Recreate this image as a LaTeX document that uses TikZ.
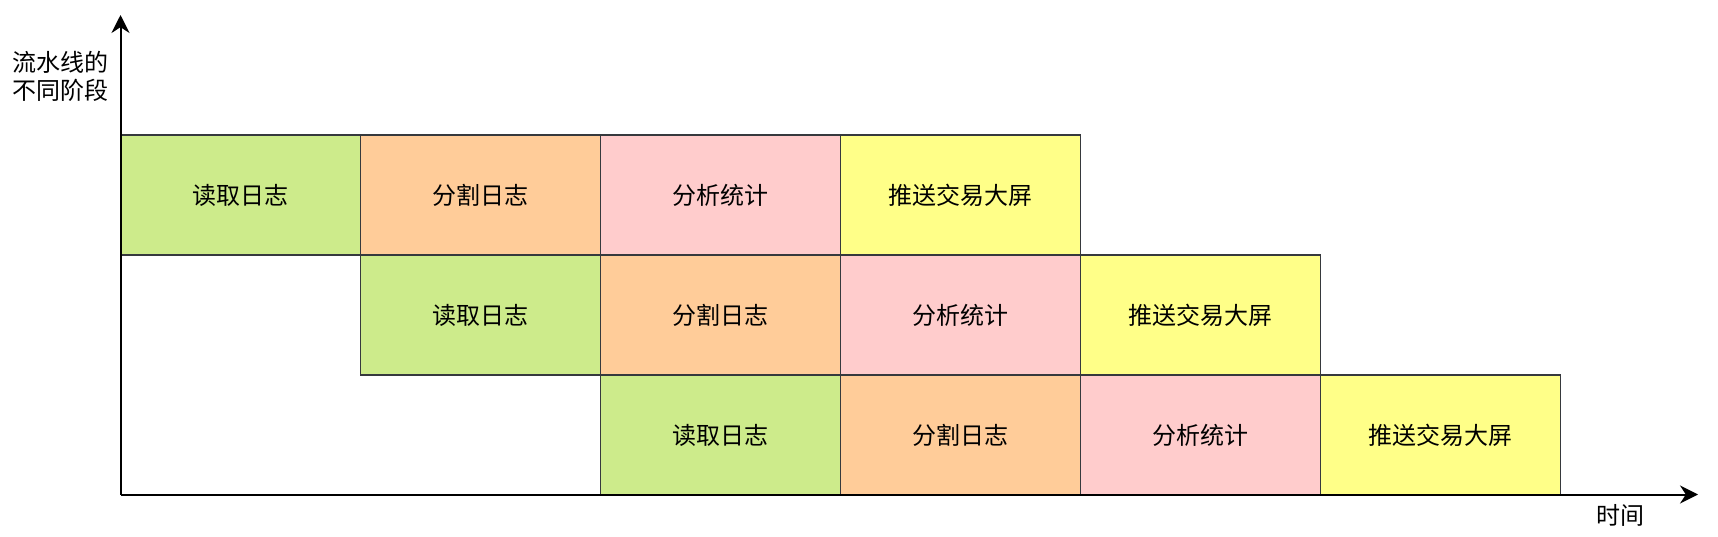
\documentclass[tikz,border=0pt]{standalone}
\usepackage{fontspec}
\setmainfont{Noto Sans CJK SC}
\usepackage{xcolor}
\usetikzlibrary{arrows.meta,positioning}

\definecolor{readc}{HTML}{CDEB8B}
\definecolor{splitc}{HTML}{FFCC99}
\definecolor{statc}{HTML}{FFCCCC}
\definecolor{pushc}{HTML}{FFFF88}
\definecolor{edgec}{HTML}{36393D}

\begin{document}
\begin{tikzpicture}[
    x=0.5pt, y=-0.5pt,
    node distance=0pt,
    stage/.style={draw=edgec, line width=0.7pt, minimum width=120pt, minimum height=60pt, inner sep=0pt, outer sep=0pt, align=center, font=\fontsize{12}{14}\selectfont},
    readlog/.style={stage, fill=readc},
    splitlog/.style={stage, fill=splitc},
    analyse/.style={stage, fill=statc},
    pushscreen/.style={stage, fill=pushc},
    axis/.style={-{Stealth[length=9pt, width=9pt]}, line width=1pt},
    label/.style={font=\fontsize{12}{14}\selectfont, align=left, inner sep=0pt},
]
\useasboundingbox (0,0) rectangle (1718,536);

% row 1
\node[readlog, anchor=north west] (r1read) at (120.5,135) {读取日志};
\node[splitlog, right=of r1read] (r1split) {分割日志};
\node[analyse, right=of r1split] (r1stat) {分析统计};
\node[pushscreen, right=of r1stat] (r1push) {推送交易大屏};

% row 2
\node[readlog, below=of r1split] (r2read) {读取日志};
\node[splitlog, right=of r2read] (r2split) {分割日志};
\node[analyse, right=of r2split] (r2stat) {分析统计};
\node[pushscreen, right=of r2stat] (r2push) {推送交易大屏};

% row 3
\node[readlog, below=of r2split] (r3read) {读取日志};
\node[splitlog, right=of r3read] (r3split) {分割日志};
\node[analyse, right=of r3split] (r3stat) {分析统计};
\node[pushscreen, right=of r3stat] (r3push) {推送交易大屏};

% axes
\coordinate (origin) at (120.5,494.5);
\coordinate (ytip) at (120.5,15);
\coordinate (xtip) at (1698,494.5);
\draw[axis] (origin) -- (ytip);
\draw[axis] (origin) -- (xtip);

\node[label] (ylabel) at (60,76) {流水线的\\不同阶段};
\node[label] (xlabel) at (1620,515) {时间};

\end{tikzpicture}
\end{document}
